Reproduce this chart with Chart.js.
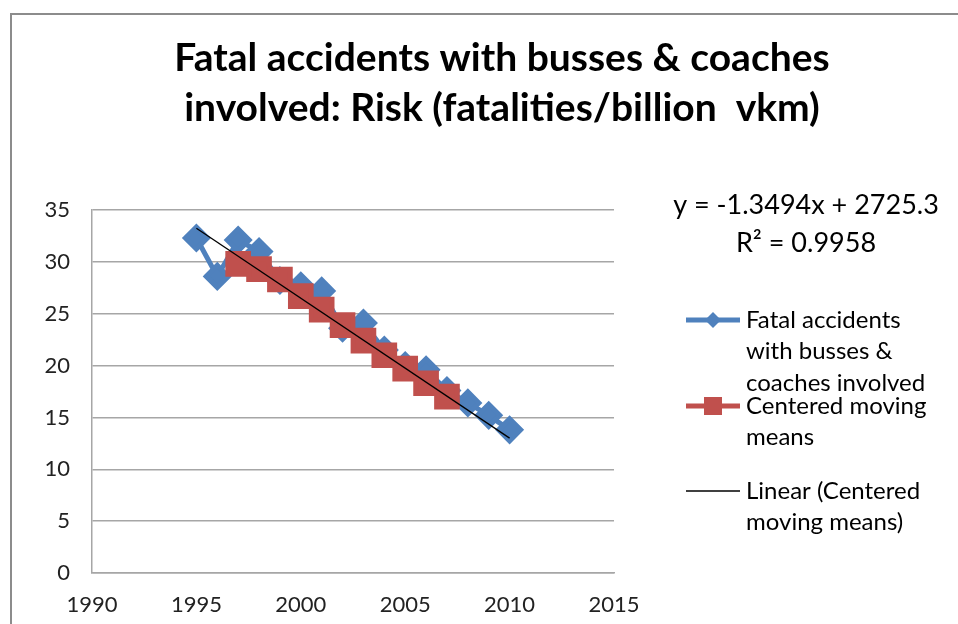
<!DOCTYPE html>
<html>
<head>
<meta charset="utf-8">
<script src="https://cdn.jsdelivr.net/npm/chart.js@4"></script>
<style>
  html, body { margin: 0; padding: 0; background: #fff; }
  #wrap { width: 958px; height: 624px; position: relative; }
</style>
</head>
<body>
<div id="wrap"><canvas id="riskChart" width="958" height="624"></canvas></div>
<script>
// data
const riskYears = [1995, 1996, 1997, 1998, 1999, 2000, 2001, 2002, 2003, 2004, 2005, 2006, 2007, 2008, 2009, 2010];
const riskValues = [32.3, 28.6, 32.1, 31.0, 28.2, 27.7, 27.2, 23.6, 24.1, 21.5, 20.0, 19.6, 17.6, 16.4, 15.2, 13.8];
const meanYears = [1997, 1998, 1999, 2000, 2001, 2002, 2003, 2004, 2005, 2006, 2007];
const meanValues = [29.8, 29.3, 28.3, 26.7, 25.4, 23.9, 22.4, 21.0, 19.7, 18.3, 17.0];
const trendSlope = -1.3494;
const trendIntercept = 2725.3;
const trendYears = [1995, 2010];
const xTicks = [1990, 1995, 2000, 2005, 2010, 2015];
const yTicks = [0, 5, 10, 15, 20, 25, 30, 35];

const titleLines = ['Fatal accidents with busses & coaches', 'involved: Risk (fatalities/billion  vkm)'];
const equationLines = ['y = -1.3494x + 2725.3', 'R\u00b2 = 0.9958'];
const legendItems = [
  { lines: ['Fatal accidents', 'with busses &', 'coaches involved'], dataset: 0 },
  { lines: ['Centered moving', 'means'], dataset: 1 },
  { lines: ['Linear (Centered', 'moving means)'], dataset: 2 }
];

const BLUE = '#4f81bd';
const RED = '#c0504d';
const FONT = 'Lato, "Open Sans", sans-serif';

const toPoints = (xs, ys) => xs.map((x, i) => ({ x, y: ys[i] }));

// ======================
// extra drawing: frame, title, equation, legend
// ======================
const decorPlugin = {
  id: 'decor',
  beforeDraw(chart) {
    const c = chart.ctx;
    c.save();
    c.strokeStyle = '#8c8c8c';
    c.lineWidth = 2;
    c.strokeRect(11, 14, 1000, 700);
    c.restore();
  },
  afterDraw(chart) {
    const c = chart.ctx;
    c.save();
    c.fillStyle = '#000';
    c.textAlign = 'center';
    c.textBaseline = 'middle';
    c.font = 'bold 39px ' + FONT;
    c.fillText(titleLines[0], 502, 58);
    c.fillText(titleLines[1], 502, 108);

    c.font = '27px ' + FONT;
    c.fillText(equationLines[0], 806, 205);
    c.fillText(equationLines[1], 806, 243);

    // legend
    c.font = '24px ' + FONT;
    c.textAlign = 'left';
    const tops = [320, 406, 491];
    legendItems.forEach((item, i) => {
      const ds = chart.data.datasets[item.dataset];
      const y = tops[i];
      c.strokeStyle = ds.borderColor;
      c.lineWidth = ds.borderWidth;
      c.beginPath();
      c.moveTo(686, y);
      c.lineTo(740, y);
      c.stroke();
      if (ds.pointStyle && ds.pointRadius > 0) {
        c.fillStyle = ds.pointBackgroundColor;
        c.beginPath();
        if (ds.pointStyle === 'rectRot') {
          c.moveTo(713 - 8, y); c.lineTo(713, y - 8); c.lineTo(713 + 8, y); c.lineTo(713, y + 8);
          c.closePath();
          c.fill();
        } else {
          c.fillRect(713 - 9, y - 9, 18, 18);
        }
      }
      c.fillStyle = '#000';
      item.lines.forEach((t, j) => c.fillText(t, 746, y + j * 31.5));
    });
    c.restore();
  }
};

const ctx = document.getElementById('riskChart').getContext('2d');
new Chart(ctx, {
  type: 'scatter',
  data: {
    datasets: [
      {
        label: 'Fatal accidents with busses & coaches involved',
        data: toPoints(riskYears, riskValues),
        showLine: true,
        borderColor: BLUE,
        backgroundColor: BLUE,
        pointBackgroundColor: BLUE,
        pointBorderColor: BLUE,
        borderWidth: 5,
        pointStyle: 'rectRot',
        pointRadius: 11,
        order: 2
      },
      {
        label: 'Centered moving means',
        data: toPoints(meanYears, meanValues),
        showLine: true,
        borderColor: RED,
        backgroundColor: RED,
        pointBackgroundColor: RED,
        pointBorderColor: RED,
        borderWidth: 5,
        pointStyle: 'rect',
        pointRadius: 14.6,
        order: 1
      },
      {
        label: 'Linear (Centered moving means)',
        data: trendYears.map(x => ({ x, y: trendSlope * x + trendIntercept })),
        showLine: true,
        borderColor: '#000',
        borderWidth: 1.3,
        pointRadius: 0,
        pointStyle: false,
        order: 0
      }
    ]
  },
  options: {
    responsive: false,
    animation: false,
    events: [],
    layout: { padding: { left: 0, top: 210, right: 344, bottom: 0 } },
    plugins: {
      legend: { display: false },
      tooltip: { enabled: false }
    },
    scales: {
      x: {
        type: 'linear',
        min: 1990,
        max: 2015,
        afterBuildTicks: axis => { axis.ticks = xTicks.map(v => ({ value: v })); },
        afterFit: axis => { axis.height = 51; },
        ticks: { color: '#222', font: { family: FONT, size: 22 }, padding: 19, maxRotation: 0, callback: v => String(v) },
        grid: { display: false, drawTicks: false },
        border: { color: '#a6a6a6', width: 1.5 }
      },
      y: {
        min: 0,
        max: 35,
        afterBuildTicks: axis => { axis.ticks = yTicks.map(v => ({ value: v })); },
        afterFit: axis => { axis.width = 92; },
        ticks: { color: '#222', font: { family: FONT, size: 22 }, padding: 22 },
        grid: { color: '#a6a6a6', lineWidth: 1.5, drawTicks: false },
        border: { color: '#a6a6a6', width: 1.5 }
      }
    }
  },
  plugins: [decorPlugin]
});
</script>
</body>
</html>
